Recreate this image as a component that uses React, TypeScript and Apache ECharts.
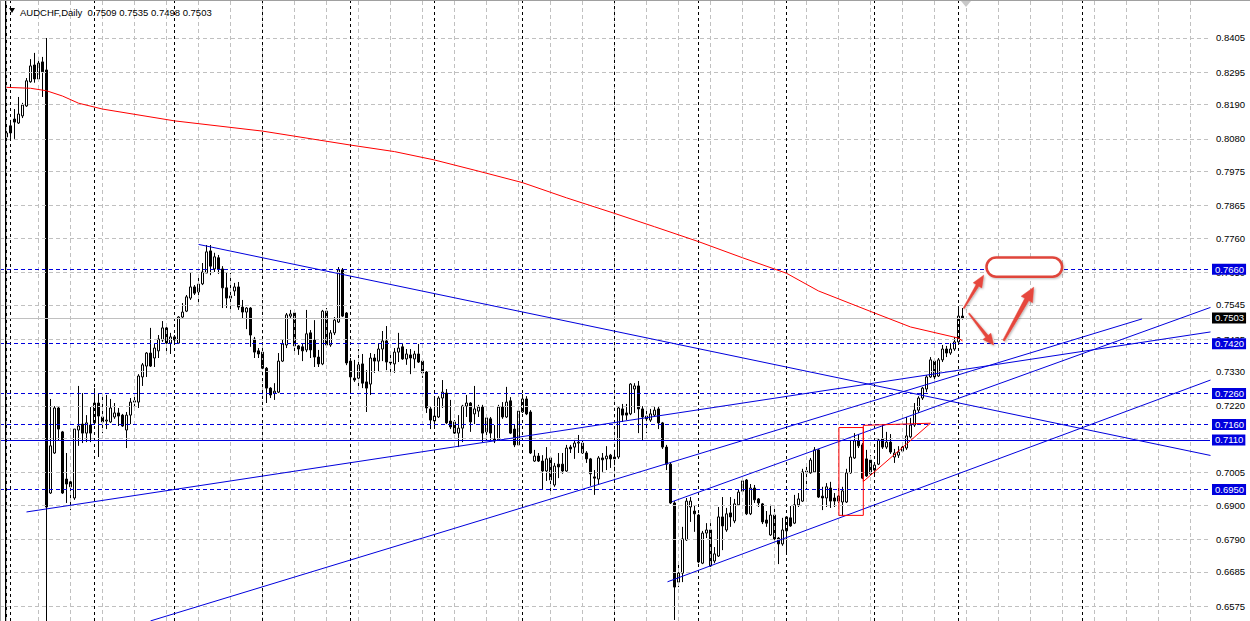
import React, { useEffect, useRef } from "react";
import * as echarts from "echarts";

const FONT = "'Liberation Sans', Arial, sans-serif";
const BLUE = "#0000dd";
const RED = "#ff0000";

const title = "AUDCHF,Daily  0.7509 0.7535 0.7498 0.7503";

const opens = [
  0.8086, 0.8122, 0.8144, 0.8131, 0.8154, 0.8186, 0.8264, 0.8318, 0.8273, 0.8328,
  0.8302, 0.6939, 0.7068, 0.7213, 0.7136, 0.6984, 0.6975, 0.6923, 0.7142, 0.7161,
  0.7132, 0.7158, 0.7165, 0.7229, 0.7184, 0.7171, 0.7168, 0.7184, 0.7197, 0.7190,
  0.7142, 0.7190, 0.7232, 0.7232, 0.7313, 0.7348, 0.7390, 0.7374, 0.7397, 0.7432,
  0.7471, 0.7422, 0.7442, 0.7422, 0.7506, 0.7525, 0.7567, 0.7603, 0.7587, 0.7613,
  0.7648, 0.7719, 0.7661, 0.7697, 0.7661, 0.7600, 0.7567, 0.7590, 0.7603, 0.7538,
  0.7522, 0.7535, 0.7435, 0.7397, 0.7393, 0.7341, 0.7277, 0.7261, 0.7264, 0.7364,
  0.7416, 0.7509, 0.7519, 0.7413, 0.7410, 0.7400, 0.7455, 0.7432, 0.7377, 0.7355,
  0.7525, 0.7416, 0.7455, 0.7490, 0.7658, 0.7519, 0.7364, 0.7309, 0.7309, 0.7355,
  0.7297, 0.7290, 0.7374, 0.7364, 0.7403, 0.7429, 0.7361, 0.7355, 0.7393, 0.7410,
  0.7371, 0.7384, 0.7371, 0.7387, 0.7364, 0.7329, 0.7210, 0.7171, 0.7184, 0.7245,
  0.7261, 0.7171, 0.7168, 0.7132, 0.7148, 0.7219, 0.7229, 0.7194, 0.7203, 0.7216,
  0.7136, 0.7178, 0.7113, 0.7110, 0.7216, 0.7184, 0.7236, 0.7145, 0.7094, 0.7200,
  0.7242, 0.7200, 0.7042, 0.7058, 0.7042, 0.7010, 0.7052, 0.6965, 0.7032, 0.7032,
  0.7010, 0.7087, 0.7087, 0.7100, 0.7100, 0.7068, 0.7049, 0.6991, 0.6984, 0.7052,
  0.7049, 0.7061, 0.7055, 0.7055, 0.7210, 0.7197, 0.7194, 0.7274, 0.7284, 0.7210,
  0.7187, 0.7174, 0.7190, 0.7210, 0.7165, 0.7087, 0.7032, 0.6907, 0.6652, 0.6681,
  0.6788, 0.6894, 0.6881, 0.6868, 0.6713, 0.6810, 0.6820, 0.6720, 0.6736, 0.6862,
  0.6820, 0.6875, 0.6849, 0.6901, 0.6945, 0.6981, 0.6872, 0.6955, 0.6920, 0.6904,
  0.6852, 0.6804, 0.6868, 0.6794, 0.6775, 0.6817, 0.6859, 0.6842, 0.6901, 0.6913,
  0.7010, 0.7004, 0.7007, 0.7078, 0.6929, 0.6923, 0.6955, 0.6923, 0.6913, 0.6910,
  0.6910, 0.7004, 0.7052, 0.7107, 0.7094, 0.7049, 0.7045, 0.7013, 0.7032, 0.7113,
  0.7087, 0.7103, 0.7055, 0.7061, 0.7074, 0.7084, 0.7120, 0.7158, 0.7206, 0.7245,
  0.7274, 0.7313, 0.7364, 0.7316, 0.7368, 0.7403, 0.7390, 0.7403, 0.7426, 0.7509,
];

const highs = [
  0.8118, 0.8141, 0.8176, 0.8215, 0.8196, 0.8276, 0.8337, 0.8357, 0.8344, 0.8344,
  0.8405, 0.7242, 0.7219, 0.7219, 0.7139, 0.7068, 0.6991, 0.7145, 0.7284, 0.7261,
  0.7190, 0.7216, 0.7277, 0.7261, 0.7255, 0.7255, 0.7242, 0.7229, 0.7213, 0.7194,
  0.7200, 0.7245, 0.7255, 0.7322, 0.7358, 0.7393, 0.7471, 0.7419, 0.7448, 0.7493,
  0.7474, 0.7455, 0.7448, 0.7509, 0.7551, 0.7577, 0.7648, 0.7609, 0.7641, 0.7680,
  0.7738, 0.7738, 0.7713, 0.7706, 0.7670, 0.7648, 0.7648, 0.7616, 0.7619, 0.7561,
  0.7538, 0.7538, 0.7442, 0.7406, 0.7397, 0.7345, 0.7280, 0.7293, 0.7390, 0.7432,
  0.7519, 0.7529, 0.7522, 0.7416, 0.7419, 0.7529, 0.7464, 0.7496, 0.7400, 0.7529,
  0.7535, 0.7464, 0.7506, 0.7667, 0.7664, 0.7522, 0.7374, 0.7368, 0.7403, 0.7387,
  0.7335, 0.7390, 0.7387, 0.7422, 0.7461, 0.7477, 0.7393, 0.7406, 0.7455, 0.7419,
  0.7403, 0.7403, 0.7397, 0.7419, 0.7368, 0.7332, 0.7219, 0.7245, 0.7251, 0.7303,
  0.7274, 0.7239, 0.7174, 0.7190, 0.7223, 0.7255, 0.7232, 0.7284, 0.7223, 0.7223,
  0.7190, 0.7184, 0.7158, 0.7223, 0.7232, 0.7281, 0.7248, 0.7158, 0.7213, 0.7258,
  0.7251, 0.7206, 0.7078, 0.7068, 0.7061, 0.7087, 0.7055, 0.7036, 0.7068, 0.7068,
  0.7094, 0.7094, 0.7110, 0.7126, 0.7107, 0.7074, 0.7052, 0.7013, 0.7058, 0.7068,
  0.7090, 0.7065, 0.7078, 0.7219, 0.7226, 0.7226, 0.7293, 0.7293, 0.7300, 0.7219,
  0.7216, 0.7210, 0.7216, 0.7219, 0.7168, 0.7094, 0.7036, 0.6913, 0.6716, 0.6830,
  0.6923, 0.6926, 0.6900, 0.6872, 0.6817, 0.6842, 0.6842, 0.6765, 0.6894, 0.6926,
  0.6891, 0.6926, 0.6920, 0.6952, 0.6991, 0.6984, 0.6968, 0.6965, 0.6923, 0.6907,
  0.6881, 0.6901, 0.6891, 0.6797, 0.6859, 0.6865, 0.6897, 0.6933, 0.6939, 0.7017,
  0.7023, 0.7052, 0.7087, 0.7081, 0.6959, 0.6971, 0.6975, 0.6939, 0.6959, 0.6959,
  0.7017, 0.7110, 0.7132, 0.7129, 0.7100, 0.7078, 0.7061, 0.7039, 0.7113, 0.7158,
  0.7136, 0.7129, 0.7081, 0.7090, 0.7103, 0.7184, 0.7181, 0.7229, 0.7251, 0.7281,
  0.7319, 0.7377, 0.7374, 0.7374, 0.7416, 0.7413, 0.7422, 0.7442, 0.7532, 0.7535,
];

const lows = [
  0.8080, 0.8083, 0.8080, 0.8128, 0.8147, 0.8183, 0.8261, 0.8261, 0.8267, 0.8215,
  0.6450, 0.6936, 0.7065, 0.7107, 0.6936, 0.6907, 0.6884, 0.6917, 0.7091, 0.7100,
  0.7103, 0.7103, 0.7161, 0.7055, 0.7132, 0.7145, 0.7165, 0.7178, 0.7155, 0.7152,
  0.7084, 0.7161, 0.7213, 0.7213, 0.7284, 0.7313, 0.7345, 0.7345, 0.7374, 0.7426,
  0.7390, 0.7387, 0.7416, 0.7419, 0.7503, 0.7522, 0.7561, 0.7577, 0.7545, 0.7609,
  0.7648, 0.7641, 0.7651, 0.7645, 0.7535, 0.7535, 0.7529, 0.7574, 0.7529, 0.7500,
  0.7467, 0.7410, 0.7374, 0.7374, 0.7338, 0.7229, 0.7245, 0.7239, 0.7261, 0.7361,
  0.7406, 0.7503, 0.7384, 0.7384, 0.7364, 0.7393, 0.7374, 0.7345, 0.7345, 0.7351,
  0.7413, 0.7410, 0.7448, 0.7487, 0.7506, 0.7351, 0.7271, 0.7297, 0.7277, 0.7277,
  0.7200, 0.7255, 0.7326, 0.7329, 0.7364, 0.7335, 0.7326, 0.7326, 0.7361, 0.7368,
  0.7352, 0.7322, 0.7341, 0.7358, 0.7310, 0.7197, 0.7145, 0.7155, 0.7181, 0.7213,
  0.7161, 0.7145, 0.7129, 0.7087, 0.7103, 0.7184, 0.7136, 0.7161, 0.7184, 0.7103,
  0.7110, 0.7110, 0.7100, 0.7107, 0.7178, 0.7181, 0.7129, 0.7087, 0.7091, 0.7197,
  0.7190, 0.7065, 0.7039, 0.7039, 0.6952, 0.6978, 0.6939, 0.6959, 0.6987, 0.7001,
  0.7007, 0.7068, 0.7049, 0.7068, 0.7065, 0.7036, 0.6962, 0.6933, 0.6965, 0.7007,
  0.7013, 0.7020, 0.7017, 0.7049, 0.7168, 0.7174, 0.7190, 0.7197, 0.7132, 0.7107,
  0.7132, 0.7168, 0.7184, 0.7145, 0.7081, 0.7013, 0.6904, 0.6530, 0.6636, 0.6652,
  0.6785, 0.6846, 0.6814, 0.6713, 0.6710, 0.6794, 0.6701, 0.6713, 0.6733, 0.6755,
  0.6814, 0.6830, 0.6842, 0.6897, 0.6942, 0.6868, 0.6868, 0.6907, 0.6894, 0.6839,
  0.6830, 0.6801, 0.6785, 0.6710, 0.6769, 0.6746, 0.6830, 0.6839, 0.6894, 0.6910,
  0.6949, 0.7001, 0.7004, 0.6923, 0.6884, 0.6894, 0.6891, 0.6894, 0.6907, 0.6865,
  0.6907, 0.7001, 0.7049, 0.7084, 0.6984, 0.6991, 0.6997, 0.6997, 0.7029, 0.7081,
  0.7081, 0.7065, 0.7036, 0.7052, 0.7068, 0.7078, 0.7116, 0.7152, 0.7197, 0.7239,
  0.7264, 0.7310, 0.7293, 0.7313, 0.7361, 0.7377, 0.7384, 0.7397, 0.7422, 0.7498,
];

const closes = [
  0.8099, 0.8099, 0.8134, 0.8160, 0.8189, 0.8267, 0.8315, 0.8273, 0.8324, 0.8296,
  0.6894, 0.7091, 0.7213, 0.7145, 0.6939, 0.6968, 0.6959, 0.7145, 0.7155, 0.7132,
  0.7165, 0.7132, 0.7229, 0.7187, 0.7168, 0.7174, 0.7213, 0.7197, 0.7187, 0.7155,
  0.7190, 0.7232, 0.7236, 0.7316, 0.7352, 0.7390, 0.7348, 0.7406, 0.7435, 0.7471,
  0.7422, 0.7442, 0.7432, 0.7506, 0.7522, 0.7571, 0.7603, 0.7583, 0.7612, 0.7651,
  0.7716, 0.7670, 0.7700, 0.7661, 0.7600, 0.7567, 0.7574, 0.7603, 0.7538, 0.7522,
  0.7535, 0.7448, 0.7393, 0.7387, 0.7341, 0.7277, 0.7255, 0.7267, 0.7364, 0.7419,
  0.7513, 0.7516, 0.7413, 0.7403, 0.7397, 0.7452, 0.7400, 0.7377, 0.7355, 0.7525,
  0.7416, 0.7455, 0.7496, 0.7658, 0.7509, 0.7358, 0.7313, 0.7303, 0.7352, 0.7293,
  0.7277, 0.7374, 0.7364, 0.7403, 0.7429, 0.7361, 0.7358, 0.7393, 0.7406, 0.7371,
  0.7387, 0.7374, 0.7387, 0.7361, 0.7326, 0.7213, 0.7174, 0.7187, 0.7245, 0.7264,
  0.7165, 0.7152, 0.7132, 0.7148, 0.7219, 0.7229, 0.7168, 0.7210, 0.7216, 0.7132,
  0.7181, 0.7132, 0.7107, 0.7216, 0.7184, 0.7232, 0.7132, 0.7094, 0.7203, 0.7242,
  0.7194, 0.7068, 0.7058, 0.7042, 0.7010, 0.7049, 0.6981, 0.7026, 0.7023, 0.7010,
  0.7084, 0.7081, 0.7100, 0.7103, 0.7068, 0.7049, 0.7001, 0.6987, 0.7052, 0.7046,
  0.7058, 0.7049, 0.7049, 0.7213, 0.7190, 0.7190, 0.7290, 0.7284, 0.7210, 0.7184,
  0.7178, 0.7194, 0.7206, 0.7165, 0.7087, 0.7032, 0.6907, 0.6636, 0.6681, 0.6791,
  0.6913, 0.6913, 0.6872, 0.6717, 0.6810, 0.6820, 0.6704, 0.6743, 0.6862, 0.6833,
  0.6872, 0.6862, 0.6904, 0.6942, 0.6978, 0.6872, 0.6955, 0.6917, 0.6907, 0.6846,
  0.6842, 0.6868, 0.6791, 0.6775, 0.6820, 0.6862, 0.6833, 0.6901, 0.6920, 0.7007,
  0.7004, 0.7045, 0.7078, 0.6926, 0.6923, 0.6959, 0.6913, 0.6913, 0.6929, 0.6946,
  0.7004, 0.7055, 0.7107, 0.7091, 0.6987, 0.6994, 0.7001, 0.7029, 0.7110, 0.7087,
  0.7103, 0.7071, 0.7068, 0.7071, 0.7087, 0.7123, 0.7158, 0.7206, 0.7245, 0.7277,
  0.7313, 0.7368, 0.7313, 0.7368, 0.7403, 0.7390, 0.7403, 0.7426, 0.7509, 0.7503,
];

// moving average read at bar indices
const maPoints: [number, number][] = [
  [0, 0.8246], [6, 0.8243], [10, 0.8235], [14, 0.8218], [18, 0.8195], [24, 0.8176],
  [42, 0.8138], [64, 0.8105], [86, 0.8060], [97, 0.8039], [107, 0.8012], [118, 0.7976],
  [129, 0.7939], [140, 0.7890], [152, 0.7840], [162, 0.7797], [173, 0.7749], [184, 0.7697],
  [195, 0.7647], [203, 0.7590], [217, 0.7519], [226, 0.7474], [238, 0.7438], [239, 0.7429],
];

// price-scale grid levels and the labels shown on the scale (0.7115 is hidden under 0.7110)
const priceGrid = [
  0.8405, 0.8295, 0.8190, 0.8080, 0.7975, 0.7865, 0.7760, 0.7650, 0.7545,
  0.7435, 0.7330, 0.7220, 0.7115, 0.7005, 0.6900, 0.6790, 0.6685, 0.6575,
];
const priceLabels = priceGrid.filter((v) => v !== 0.7115);
const gridBars = Array.from({ length: 38 }, (_, k) => k * 8);
const monthSeparators = [1, 22, 42, 64, 86, 107, 129, 152, 173, 195, 217, 238, 269];
const dashedLevels = [0.7660, 0.7420, 0.7260, 0.7160, 0.6950];
const solidLevels = [0.7110];
const lastPrice = 0.7503;

// trend lines: [bar1, price1, bar2, price2]
const trendLines: [number, number, number, number][] = [
  [48, 0.7740, 301, 0.7060],
  [5, 0.6878, 301, 0.7458],
  [36, 0.6527, 283.9, 0.7500],
  [166.4, 0.6911, 301, 0.7537],
  [165.25, 0.6653, 301, 0.7303],
];
const redRect: [number, number][] = [
  [208.1, 0.7150], [214.2, 0.7150], [214.2, 0.6867], [208.1, 0.6867], [208.1, 0.7150],
];
const redTriangle: [number, number][] = [
  [214.2, 0.6976], [214.2, 0.7157], [231, 0.7164], [214.2, 0.6976],
];
// hand-drawn arrows: tail, tip (bar, price)
const arrows: { tail: [number, number]; tip: [number, number]; head: number; half: number; neck: number; tailW: number }[] = [
  { tail: [239.3, 0.7534], tip: [244.3, 0.7641], head: 12, half: 5, neck: 1.6, tailW: 0.6 },
  { tail: [240.6, 0.7518], tip: [246.8, 0.7416], head: 11, half: 5, neck: 1.6, tailW: 0.6 },
  { tail: [249.3, 0.7430], tip: [256.8, 0.7602], head: 14, half: 6.5, neck: 2.3, tailW: 1 },
];
const targetBox: [[number, number], [number, number]] = [[245, 0.7698], [263.9, 0.7636]];

const Y_MIN = 0.65267;
const Y_MAX = 0.85274;
const X_MIN = -1.625;
const X_MAX = 300.875;

function arrowPoly(t: number[], h: number[], headLen: number, half: number, neck: number, tailW: number) {
  const dx = h[0] - t[0], dy = h[1] - t[1];
  const len = Math.hypot(dx, dy) || 1;
  const ux = dx / len, uy = dy / len;
  const nx = -uy, ny = ux;
  const bx = h[0] - ux * headLen, by = h[1] - uy * headLen;
  return [
    [t[0] + nx * tailW, t[1] + ny * tailW],
    [bx + nx * neck, by + ny * neck],
    [bx + nx * half, by + ny * half],
    [h[0], h[1]],
    [bx - nx * half, by - ny * half],
    [bx - nx * neck, by - ny * neck],
    [t[0] - nx * tailW, t[1] - ny * tailW],
  ];
}

function levelLabel(bg: string) {
  return {
    show: true,
    position: "end",
    distance: 2,
    formatter: (p: any) => Number(p.value).toFixed(4),
    color: "#ffffff",
    backgroundColor: bg,
    padding: [1, 2, 0, 3],
    fontSize: 9.5,
    lineHeight: 10,
    fontFamily: FONT,
  };
}

function buildOption(): any {
  const candleData = opens.map((o, i) => [i, o, closes[i], lows[i], highs[i]]);
  const series: any[] = [
    {
      type: "line",
      name: "grid",
      data: [],
      z: 1,
      silent: true,
      markLine: {
        silent: true,
        precision: 5,
        symbol: ["none", "none"],
        label: { show: false },
        lineStyle: { color: "#c0c0c0", type: [4, 3], width: 1 },
        data: [
          ...priceGrid.map((v) => ({ yAxis: v })),
          ...gridBars.map((v) => ({ xAxis: v })),
        ],
      },
    },
    {
      type: "line",
      name: "separators",
      data: [],
      z: 1,
      silent: true,
      markLine: {
        silent: true,
        precision: 5,
        symbol: ["none", "none"],
        label: { show: false },
        lineStyle: { color: "#000000", type: [3, 3], width: 1 },
        data: monthSeparators.map((v) => ({ xAxis: v })),
      },
    },
    {
      type: "candlestick",
      name: "AUDCHF",
      data: candleData,
      dimensions: ["bar", "open", "close", "low", "high"],
      encode: { x: "bar", y: ["open", "close", "low", "high"] },
      barWidth: 2,
      z: 3,
      clip: true,
      silent: true,
      itemStyle: {
        color: "#ffffff",
        color0: "#000000",
        borderColor: "#000000",
        borderColor0: "#000000",
        borderColorDoji: "#000000",
        borderWidth: 1,
      },
    },
    {
      type: "line",
      name: "levels",
      data: [],
      z: 4,
      silent: true,
      markLine: {
        silent: true,
        precision: 5,
        symbol: ["none", "none"],
        data: [
          { yAxis: lastPrice, lineStyle: { color: "#c0c0c0", type: "solid", width: 1 }, label: levelLabel("#000000") },
          ...dashedLevels.map((v) => ({ yAxis: v, lineStyle: { color: BLUE, type: [4, 3], width: 1 }, label: levelLabel(BLUE) })),
          ...solidLevels.map((v) => ({ yAxis: v, lineStyle: { color: BLUE, type: "solid", width: 1 }, label: levelLabel(BLUE) })),
        ],
      },
    },
    {
      type: "line",
      name: "MA",
      data: maPoints,
      showSymbol: false,
      symbol: "none",
      z: 5,
      silent: true,
      lineStyle: { color: RED, width: 1 },
    },
    ...trendLines.map((t, k) => ({
      type: "line",
      name: "trend" + k,
      data: [[t[0], t[1]], [t[2], t[3]]],
      showSymbol: false,
      symbol: "none",
      z: 6,
      silent: true,
      clip: true,
      lineStyle: { color: BLUE, width: 1 },
    })),
    {
      type: "line",
      name: "rect",
      data: redRect,
      showSymbol: false,
      symbol: "none",
      z: 6,
      silent: true,
      lineStyle: { color: RED, width: 1 },
    },
    {
      type: "line",
      name: "triangle",
      data: redTriangle,
      showSymbol: false,
      symbol: "none",
      z: 6,
      silent: true,
      lineStyle: { color: RED, width: 1 },
    },
  ];

  return {
    animation: false,
    backgroundColor: "#ffffff",
    grid: { left: 0, top: 0, width: 1210, height: 621, containLabel: false },
    xAxis: {
      type: "value",
      min: X_MIN,
      max: X_MAX,
      show: false,
      splitLine: { show: false },
    },
    yAxis: {
      type: "value",
      position: "right",
      min: Y_MIN,
      max: Y_MAX,
      scale: true,
      axisLine: { show: true, lineStyle: { color: "#000000", width: 1 } },
      axisTick: { show: true, length: 3, customValues: priceGrid, lineStyle: { color: "#000000" } },
      axisLabel: {
        customValues: priceLabels,
        formatter: (v: number) => v.toFixed(4),
        color: "#000000",
        fontSize: 9.5,
        fontFamily: FONT,
        margin: 6,
      },
      splitLine: { show: false },
    },
    series,
  };
}

export default function App() {
  const ref = useRef<HTMLDivElement>(null);
  useEffect(() => {
    if (!ref.current) return;
    const chart = echarts.init(ref.current, null, { renderer: "svg" });
    chart.setOption(buildOption());
    const px = (p: number[]) => chart.convertToPixel({ gridIndex: 0 }, p) as unknown as number[];

    const graphics: any[] = [
      { type: "line", z: 50, silent: true, shape: { x1: 0.5, y1: 0, x2: 0.5, y2: 621 }, style: { stroke: "#a0a0a0", lineWidth: 1 } },
      { type: "line", z: 50, silent: true, shape: { x1: 5.5, y1: 0, x2: 5.5, y2: 621 }, style: { stroke: "#000000", lineWidth: 1 } },
      { type: "line", z: 50, silent: true, shape: { x1: 0, y1: 0.5, x2: 1250, y2: 0.5 }, style: { stroke: "#a0a0a0", lineWidth: 1 } },
      { type: "polygon", z: 50, silent: true, shape: { points: [[9, 8], [15, 8], [12, 13]] }, style: { fill: "#000000" } },
      { type: "polygon", z: 50, silent: true, shape: { points: [[961, 1], [971, 1], [966, 7]] }, style: { fill: "#c8c8c8" } },
      {
        type: "text", z: 50, silent: true, x: 20, y: 12,
        style: { text: title, fill: "#000000", font: `9.5px ${FONT}`, verticalAlign: "middle", align: "left" },
      },
    ];

    const b0 = px(targetBox[0]);
    const b1 = px(targetBox[1]);
    graphics.push({
      type: "rect", z: 60, silent: true,
      shape: { x: b0[0], y: b0[1], width: b1[0] - b0[0], height: b1[1] - b0[1], r: (b1[1] - b0[1]) / 2 },
      style: { fill: "#ffffff", stroke: "#e0443a", lineWidth: 2.5, shadowBlur: 2, shadowColor: "rgba(0,0,0,0.25)", shadowOffsetX: 1, shadowOffsetY: 1 },
    });
    arrows.forEach((a) => {
      const t = px(a.tail);
      const h = px(a.tip);
      graphics.push({
        type: "polygon", z: 60, silent: true,
        shape: { points: arrowPoly(t, h, a.head, a.half, a.neck, a.tailW) },
        style: { fill: "#e6463c", stroke: "#e6463c", lineWidth: 0.5, shadowBlur: 2, shadowColor: "rgba(0,0,0,0.3)", shadowOffsetX: 1, shadowOffsetY: 1 },
      });
    });
    chart.setOption({ graphic: graphics });
    return () => chart.dispose();
  }, []);
  return <div ref={ref} style={{ position: "absolute", left: 0, top: 0, width: 1250, height: 621 }} />;
}
